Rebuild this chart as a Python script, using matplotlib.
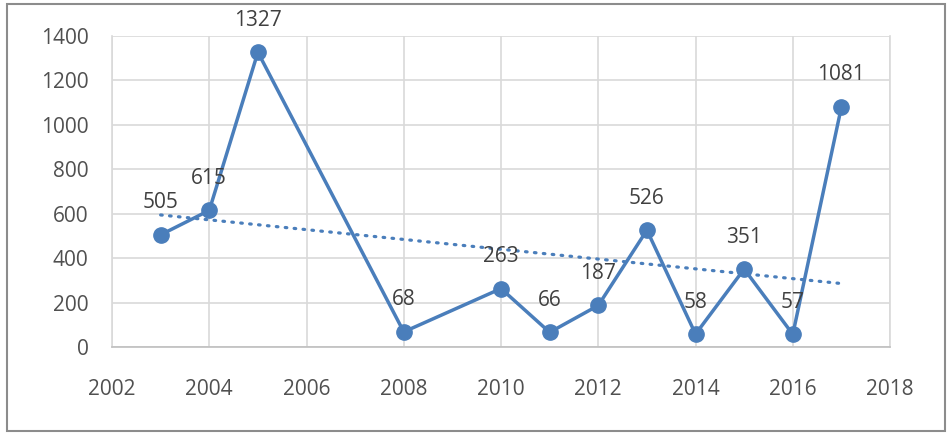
import matplotlib
matplotlib.use("Agg")
import matplotlib.pyplot as plt
import numpy as np
from matplotlib.patches import Rectangle

years = [2003, 2004, 2005, 2008, 2010, 2011, 2012, 2013, 2014, 2015, 2016, 2017]
values = [505, 615, 1327, 68, 263, 66, 187, 526, 58, 351, 57, 1081]
x_ticks = [2002, 2004, 2006, 2008, 2010, 2012, 2014, 2016, 2018]
y_ticks = [0, 200, 400, 600, 800, 1000, 1200, 1400]

plt.rcParams['font.family'] = ['Open Sans', 'DejaVu Sans']
color = '#4a7ebb'
tick_c = '#505050'
lab_c = '#404040'

fig = plt.figure(figsize=(9.5, 4.34), dpi=100)
fig.patches.append(Rectangle((0.007, 0.008), 0.988, 0.982, transform=fig.transFigure,
                             fill=False, edgecolor='#8c8c8c', linewidth=1.5))
ax = fig.add_axes([0.1179, 0.2005, 0.819, 0.7165])

ax.plot(years, values, color=color, linewidth=2.5, marker='o', markersize=11, zorder=3)

coef = np.polyfit(years, values, 1)
tx = np.array([years[0], years[-1]])
ax.plot(tx, np.polyval(coef, tx), color=color, linewidth=2.3, linestyle=(0, (0.5, 2.3)),
        dash_capstyle='round', zorder=2)

for xv, yv in zip(years, values):
    ax.annotate(str(yv), (xv, yv), xytext=(0, 23), textcoords='offset points',
                ha='center', va='center', fontsize=15, color=lab_c)

ax.set_xlim(2002, 2018)
ax.set_ylim(0, 1400)
ax.set_xticks(x_ticks)
ax.set_yticks(y_ticks)
ax.tick_params(axis='both', length=0, labelsize=15, labelcolor=tick_c)
ax.tick_params(axis='x', pad=23)
ax.tick_params(axis='y', pad=17)
ax.grid(True, color='#d9d9d9', linewidth=1.2)
ax.set_axisbelow(True)
ax.spines['top'].set_visible(False)
for s in ['left', 'right']:
    ax.spines[s].set_color('#d9d9d9')
    ax.spines[s].set_linewidth(1.2)
ax.spines['bottom'].set_color('#bfbfbf')
ax.spines['bottom'].set_linewidth(1.2)

fig.savefig('out.png', dpi=100)
